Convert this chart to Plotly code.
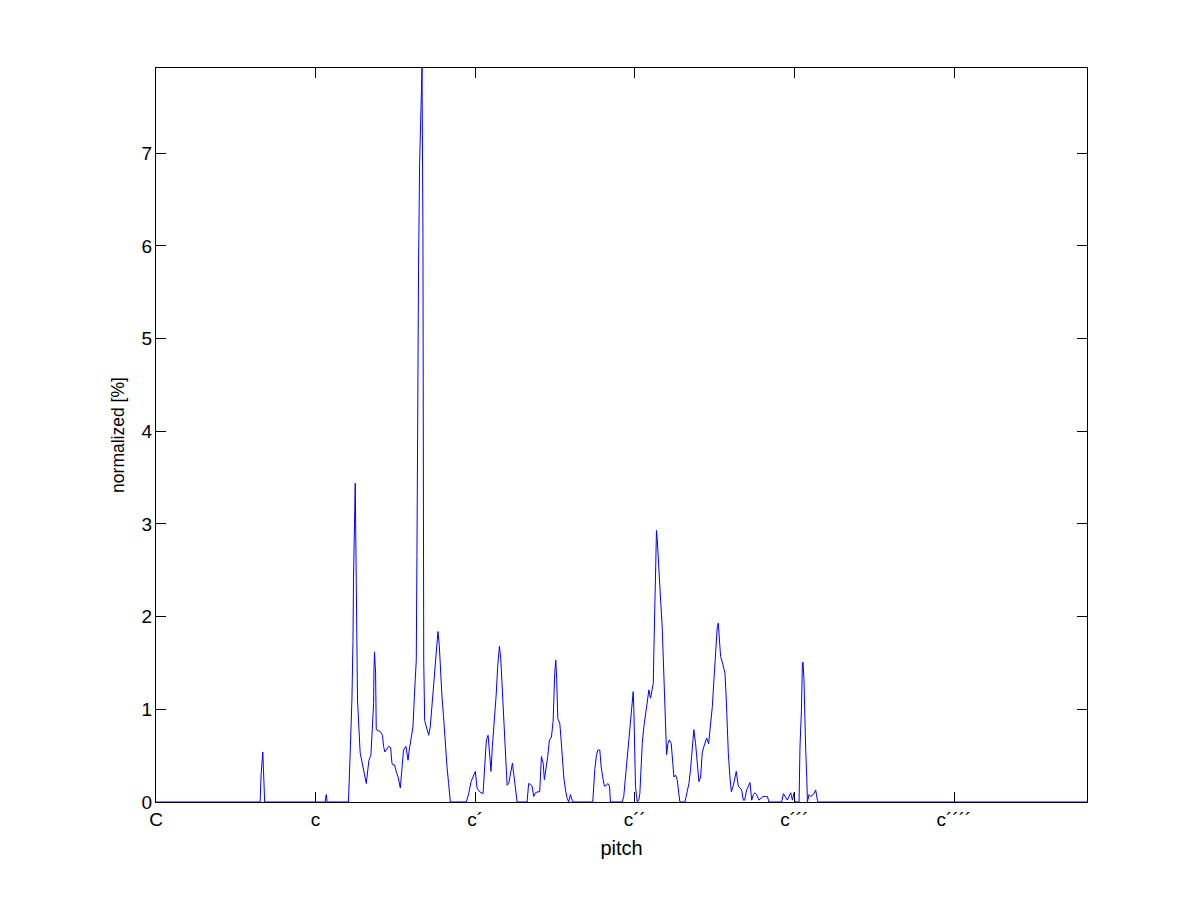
import plotly.graph_objects as go

# pitch in semitones above C (C = 0), value in normalized percent
seg_x = [
    0.0, 7.83, 7.90, 7.98, 8.03, 8.08, 8.15, 8.17,
    12.72, 12.80, 12.87,
    14.47, 14.60, 14.73, 14.81, 14.85, 14.98, 15.03, 15.11, 15.15, 15.35, 15.48, 15.66, 15.81, 15.90,
    16.01, 16.16, 16.28, 16.36, 16.39, 16.43, 16.51, 16.56, 16.86, 17.03, 17.11, 17.21, 17.31, 17.49,
    17.64, 17.74, 17.82, 17.94, 18.06, 18.22, 18.37, 18.49, 18.61, 18.79, 18.95, 19.04, 19.17, 19.32,
    19.42, 19.57, 19.62, 19.67, 19.74, 19.82, 19.92, 20.00, 20.07, 20.10, 20.13, 20.20, 20.32, 20.50,
    20.62, 20.75, 20.85, 21.00, 21.13, 21.20, 21.30, 21.38, 21.50, 21.62, 21.75, 21.88, 22.00, 22.13,
    23.33, 23.51, 23.69, 23.84, 24.01, 24.14, 24.33, 24.59, 24.71, 24.84, 24.97, 25.06, 25.19, 25.29,
    25.44, 25.57, 25.69, 25.82, 25.92, 26.02, 26.10, 26.19, 26.29, 26.40, 26.52, 26.65, 26.80, 26.89,
    27.02, 27.15,
    27.90, 28.02, 28.15, 28.28, 28.40, 28.53, 28.70, 28.85, 28.98, 29.11, 29.20, 29.33, 29.45, 29.58,
    29.73, 29.86, 29.90, 29.98, 30.06, 30.13, 30.21, 30.36, 30.46, 30.54, 30.66, 30.79, 30.91, 31.03,
    31.16, 31.29, 31.36,
    32.84, 32.99, 33.12, 33.22, 33.37, 33.47, 33.62, 33.72, 33.87, 33.97, 34.10, 34.17,
    35.05, 35.17, 35.30, 35.43, 35.55, 35.68, 35.81, 35.88, 35.93, 35.98, 36.05, 36.18, 36.30, 36.38,
    36.48, 36.56, 36.68, 36.81, 36.93, 37.06, 37.18, 37.31, 37.39, 37.43, 37.51, 37.58, 37.63, 37.69,
    37.76, 37.84, 37.94, 38.06, 38.14, 38.24, 38.31, 38.39, 38.49, 38.59, 38.74, 38.82, 38.94, 39.06,
    39.19, 39.31, 39.39,
    39.77, 39.95, 40.07, 40.19, 40.32, 40.44, 40.57, 40.70, 40.82, 40.95, 41.07, 41.20, 41.32, 41.40,
    41.55, 41.70, 41.83, 41.95, 42.08, 42.20, 42.28, 42.38, 42.45, 42.58, 42.70, 42.78, 42.88, 42.96,
    43.03, 43.15, 43.26, 43.41, 43.53, 43.63, 43.78, 43.90, 44.03, 44.16, 44.26, 44.41, 44.54, 44.66,
    44.79, 44.91, 45.03, 45.16, 45.33, 45.46, 45.64, 45.84, 45.97, 46.09,
    47.04, 47.17, 47.34, 47.47, 47.59, 47.72, 47.85, 47.97, 48.04, 48.35, 48.42, 48.53, 48.60, 48.65,
    48.72, 48.77, 48.85, 48.93, 48.98, 49.10, 49.23, 49.43, 49.60, 49.73, 49.78,
    70.0,
]
seg_y = [
    0.0, 0.0, 0.29, 0.45, 0.54, 0.35, 0.13, 0.0,
    0.0, 0.08, 0.0,
    0.0, 0.53, 1.10, 1.73, 2.41, 3.44, 2.43, 1.73, 1.10, 0.53, 0.42, 0.31, 0.20, 0.31,
    0.45, 0.51, 0.81, 1.06, 1.44, 1.62, 1.39, 0.78, 0.76, 0.72, 0.60, 0.54, 0.56, 0.60,
    0.59, 0.42, 0.40, 0.40, 0.33, 0.26, 0.15, 0.33, 0.56, 0.60, 0.45, 0.56, 0.70, 0.81,
    1.12, 1.53, 2.66, 4.14, 5.77, 6.89, 7.57, 7.92, 6.15, 2.64, 1.53, 0.88, 0.81, 0.72,
    0.81, 1.03, 1.21, 1.46, 1.75, 1.84, 1.69, 1.44, 1.14, 0.92, 0.63, 0.38, 0.20, 0.0,
    0.0, 0.09, 0.22, 0.27, 0.33, 0.15, 0.11, 0.09, 0.38, 0.67, 0.72, 0.54, 0.33, 0.60,
    0.85, 1.14, 1.46, 1.68, 1.55, 1.24, 0.96, 0.67, 0.38, 0.18, 0.20, 0.31, 0.42, 0.31,
    0.15, 0.0,
    0.0, 0.20, 0.19, 0.17, 0.06, 0.10, 0.11, 0.11, 0.49, 0.42, 0.24, 0.35, 0.49, 0.67,
    0.70, 0.87, 1.12, 1.39, 1.53, 1.32, 0.90, 0.85, 0.67, 0.49, 0.27, 0.13, 0.04, 0.0,
    0.08, 0.02, 0.0,
    0.0, 0.35, 0.51, 0.56, 0.56, 0.38, 0.24, 0.17, 0.18, 0.20, 0.17, 0.0,
    0.0, 0.06, 0.27, 0.49, 0.70, 0.92, 1.10, 1.19, 0.99, 0.53, 0.17, 0.0, 0.02, 0.09,
    0.38, 0.63, 0.81, 0.96, 1.06, 1.21, 1.12, 1.24, 1.28, 1.60, 2.04, 2.61, 2.93, 2.83,
    2.61, 2.43, 2.18, 1.89, 1.57, 1.14, 0.74, 0.51, 0.63, 0.67, 0.63, 0.49, 0.27, 0.29,
    0.24, 0.09, 0.0,
    0.0, 0.13, 0.20, 0.35, 0.63, 0.78, 0.63, 0.42, 0.22, 0.27, 0.53, 0.60, 0.67, 0.69,
    0.63, 0.81, 1.03, 1.32, 1.60, 1.89, 1.93, 1.75, 1.57, 1.51, 1.44, 1.39, 1.10, 0.78,
    0.53, 0.27, 0.11, 0.18, 0.27, 0.33, 0.17, 0.15, 0.13, 0.02, 0.02, 0.13, 0.17, 0.21,
    0.02, 0.08, 0.10, 0.08, 0.02, 0.04, 0.06, 0.06, 0.06, 0.0,
    0.0, 0.09, 0.04, 0.02, 0.06, 0.10, 0.02, 0.10, 0.0, 0.0, 0.60, 0.99, 1.50, 1.51,
    1.32, 0.92, 0.56, 0.27, 0.0, 0.08, 0.06, 0.08, 0.13, 0.02, 0.0,
    0.0,
]

tick_vals = [0, 12, 24, 36, 48, 60]
tick_text = ["C", "c", "c´", "c´´", "c´´´", "c´´´´"]
y_ticks = [0, 1, 2, 3, 4, 5, 6, 7]

fig = go.Figure()
fig.add_trace(go.Scatter(
    x=seg_x, y=seg_y, mode="lines",
    line=dict(color="#0000ff", width=1),
    showlegend=False, hoverinfo="skip",
))

fam = "Liberation Sans, Arial, sans-serif"
tick_font = dict(family=fam, size=19, color="black")

fig.update_layout(
    width=1185, height=885,
    margin=dict(l=148, r=106, t=60, b=91, autoexpand=False),
    paper_bgcolor="white", plot_bgcolor="white",
    font=tick_font,
    showlegend=False,
)
fig.update_xaxes(
    range=[0, 70], tickvals=tick_vals, ticktext=tick_text,
    showgrid=False, zeroline=False,
    showline=True, linecolor="black", linewidth=1, mirror="ticks",
    ticks="inside", ticklen=10, tickcolor="black", tickwidth=1,
    title=dict(text="pitch", standoff=12, font=dict(family=fam, size=20, color="black")),
    tickfont=tick_font, automargin=False,
)
fig.update_yaxes(
    range=[0, 7.92], tickvals=y_ticks,
    showgrid=False, zeroline=False,
    showline=True, linecolor="black", linewidth=1, mirror="ticks",
    ticks="inside", ticklen=10, tickcolor="black", tickwidth=1,
    ticklabelstandoff=-1,
    title=dict(text="normalized [%]", standoff=12, font=dict(family=fam, size=17.5, color="black")),
    tickfont=tick_font, automargin=False,
)

fig.write_html("out.html")
